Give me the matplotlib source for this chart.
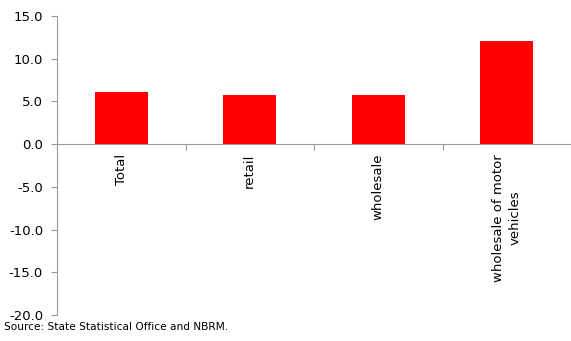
import matplotlib
matplotlib.use("Agg")
import matplotlib.pyplot as plt

CATEGORIES = ["Total", "retail", "wholesale", "wholesale of motor\nvehicles"]
VALUES = [6.1, 5.8, 5.7, 12.1]
Y_TICKS = [-20.0, -15.0, -10.0, -5.0, 0.0, 5.0, 10.0, 15.0]
SOURCE = "Source: State Statistical Office and NBRM."

AXIS_GREY = "#9a9a9a"

fig = plt.figure(figsize=(5.71, 3.41), dpi=100)
ax = fig.add_axes([57 / 571, 1 - 315 / 341, (571 - 57) / 571, (315 - 16) / 341])

x = range(len(CATEGORIES))
ax.bar(x, VALUES, width=0.41, color="#ff0000", zorder=2)

ax.set_xlim(-0.5, len(CATEGORIES) - 0.5)
ax.set_ylim(-20, 15)
ax.set_yticks(Y_TICKS)
ax.set_yticklabels([f"{v:.1f}" for v in Y_TICKS], fontsize=9.5)

for side in ("top", "right"):
    ax.spines[side].set_visible(False)
ax.spines["left"].set_color(AXIS_GREY)
ax.spines["bottom"].set_color(AXIS_GREY)
ax.spines["bottom"].set_position(("data", 0))

ax.tick_params(axis="y", colors=AXIS_GREY, labelcolor="black", length=4, width=0.8, pad=6)

# category names centred on bars, separators between categories
ax.set_xticks(list(x))
ax.set_xticklabels(CATEGORIES, rotation=90, fontsize=9.5, va="top", ha="center",
                   multialignment="center", linespacing=1.4)
ax.tick_params(axis="x", which="major", length=0, pad=7)
ax.set_xticks([i + 0.5 for i in range(len(CATEGORIES) - 1)], minor=True)
ax.tick_params(axis="x", which="minor", direction="out", length=4, color=AXIS_GREY, width=0.8)

fig.text(4 / 571, 1 - 327 / 341, SOURCE, fontsize=7.6, va="center", ha="left")

fig.savefig("out.png", dpi=100)
